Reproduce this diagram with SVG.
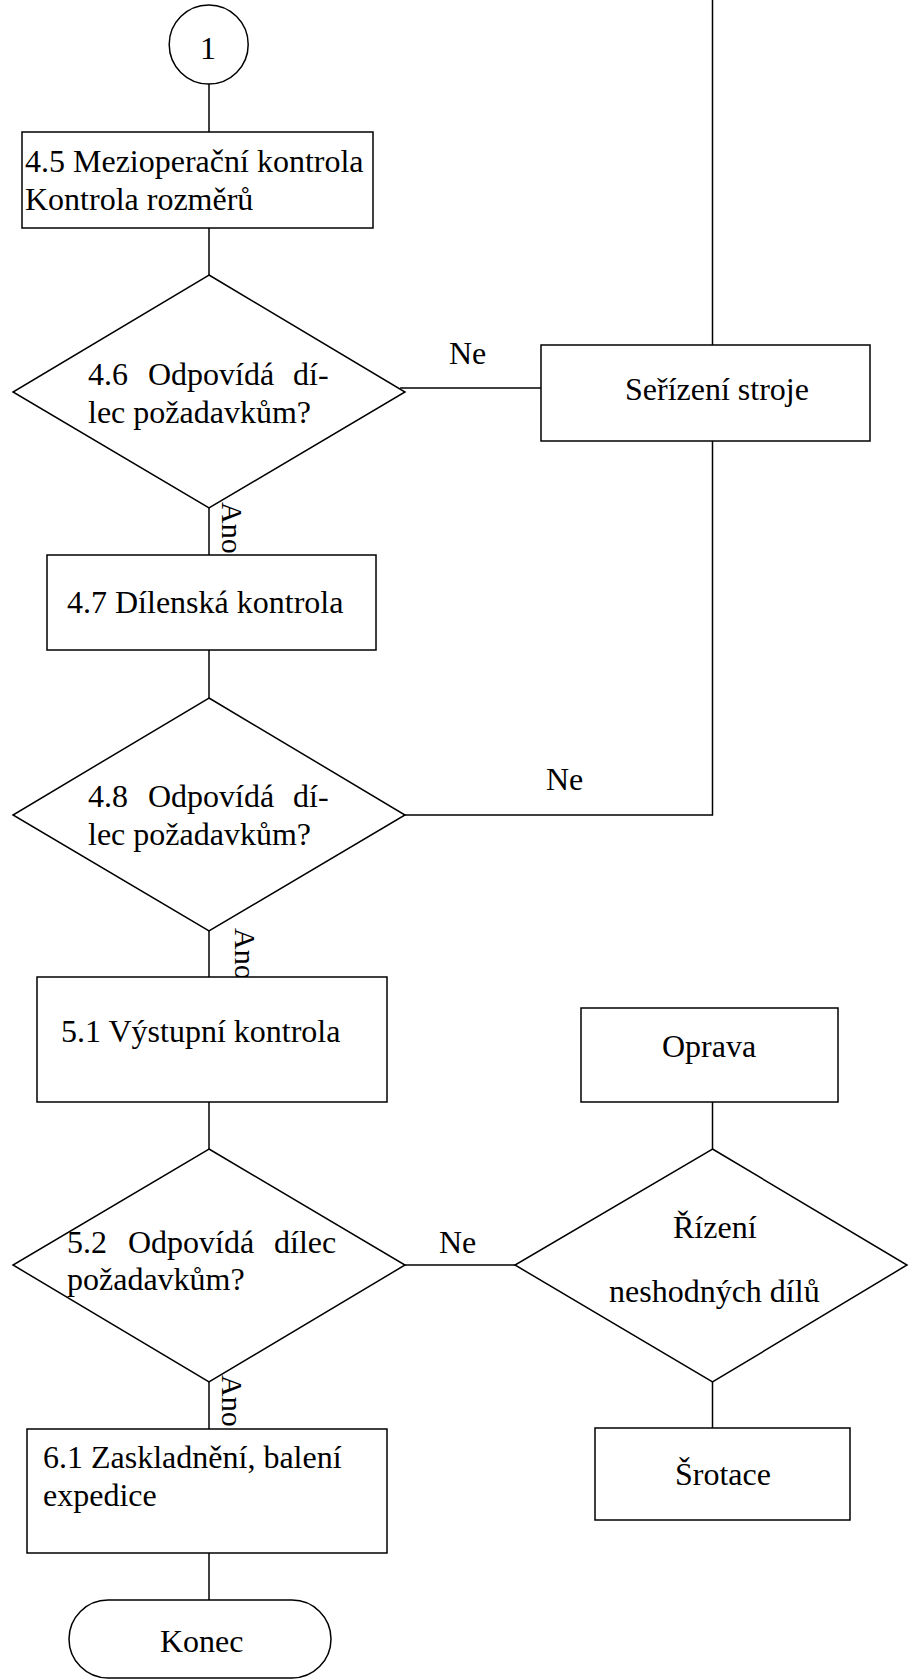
<svg xmlns="http://www.w3.org/2000/svg" width="916" height="1680" viewBox="0 0 916 1680">
<style>
.s{fill:#fff;stroke:#000;stroke-width:1.5}
.c{fill:none;stroke:#000;stroke-width:1.5}
text{font-family:"Liberation Serif","Times New Roman",serif;font-size:32px;fill:#000}
.lbl{font-size:30px}
</style>
<rect width="916" height="1680" fill="#fff"/>
<g id="connectors">
<line class="c" x1="209" y1="84" x2="209" y2="132"/>
<line class="c" x1="209" y1="228" x2="209" y2="275"/>
<line class="c" x1="400" y1="388" x2="541" y2="388"/>
<line class="c" x1="712.5" y1="0" x2="712.5" y2="345"/>
<line class="c" x1="209" y1="508" x2="209" y2="555"/>
<line class="c" x1="209" y1="650" x2="209" y2="698"/>
<polyline class="c" points="405,815 712.5,815 712.5,441"/>
<line class="c" x1="209" y1="931" x2="209" y2="977"/>
<line class="c" x1="209" y1="1102" x2="209" y2="1149"/>
<line class="c" x1="405" y1="1265" x2="515" y2="1265"/>
<line class="c" x1="712.5" y1="1102" x2="712.5" y2="1149"/>
<line class="c" x1="712.5" y1="1382" x2="712.5" y2="1428"/>
<line class="c" x1="209" y1="1382" x2="209" y2="1429"/>
<line class="c" x1="209" y1="1553" x2="209" y2="1600"/>
<text x="449" y="364">Ne</text>
<text x="546" y="790">Ne</text>
<text x="439" y="1253">Ne</text>
<text class="lbl" x="222" y="502" transform="rotate(90 222 502)">Ano</text>
<text class="lbl" x="235" y="928" transform="rotate(90 235 928)">Ano</text>
<text class="lbl" x="222" y="1375" transform="rotate(90 222 1375)">Ano</text>
</g>
<g id="start">
<circle class="s" cx="208.7" cy="44.5" r="39.5"/>
<text x="200" y="59">1</text>
</g>
<g id="n45">
<rect class="s" x="22" y="132" width="351" height="96"/>
<text x="25" y="172">4.5 Mezioperační kontrola</text>
<text x="25" y="210">Kontrola rozměrů</text>
</g>
<g id="n46">
<polygon class="s" points="209,275 405,392 209,508 13,392"/>
<text y="385"><tspan x="88">4.6</tspan><tspan x="148">Odpovídá</tspan><tspan x="293">dí-</tspan></text>
<text x="88" y="423">lec požadavkům?</text>
</g>
<g id="seriz">
<rect class="s" x="541" y="345" width="329" height="96"/>
<text x="625" y="400">Seřízení stroje</text>
</g>
<g id="n47">
<rect class="s" x="47" y="555" width="329" height="95"/>
<text x="67" y="613">4.7 Dílenská kontrola</text>
</g>
<g id="n48">
<polygon class="s" points="209,698 405,815 209,931 13,815"/>
<text y="807"><tspan x="88">4.8</tspan><tspan x="148">Odpovídá</tspan><tspan x="293">dí-</tspan></text>
<text x="88" y="845">lec požadavkům?</text>
</g>
<g id="n51">
<rect class="s" x="37" y="977" width="350" height="125"/>
<text x="61" y="1042">5.1 Výstupní kontrola</text>
</g>
<g id="n52">
<polygon class="s" points="209,1149 405,1265 209,1382 13,1265"/>
<text y="1253"><tspan x="67">5.2</tspan><tspan x="128">Odpovídá</tspan><tspan x="274">dílec</tspan></text>
<text x="67" y="1290">požadavkům?</text>
</g>
<g id="oprava">
<rect class="s" x="581" y="1008" width="257" height="94"/>
<text x="662" y="1057">Oprava</text>
</g>
<g id="rizeni">
<polygon class="s" points="712.5,1149 907,1265 712.5,1382 515,1265"/>
<text x="673" y="1238">Řízení</text>
<text x="609" y="1302">neshodných dílů</text>
</g>
<g id="srotace">
<rect class="s" x="595" y="1428" width="255" height="92"/>
<text x="675" y="1485">Šrotace</text>
</g>
<g id="n61">
<rect class="s" x="27" y="1429" width="360" height="124"/>
<text x="43" y="1468">6.1 Zaskladnění, balení</text>
<text x="43" y="1506">expedice</text>
</g>
<g id="konec">
<rect class="s" x="69" y="1600" width="262" height="78" rx="39" ry="39"/>
<text x="160" y="1652">Konec</text>
</g>
</svg>
